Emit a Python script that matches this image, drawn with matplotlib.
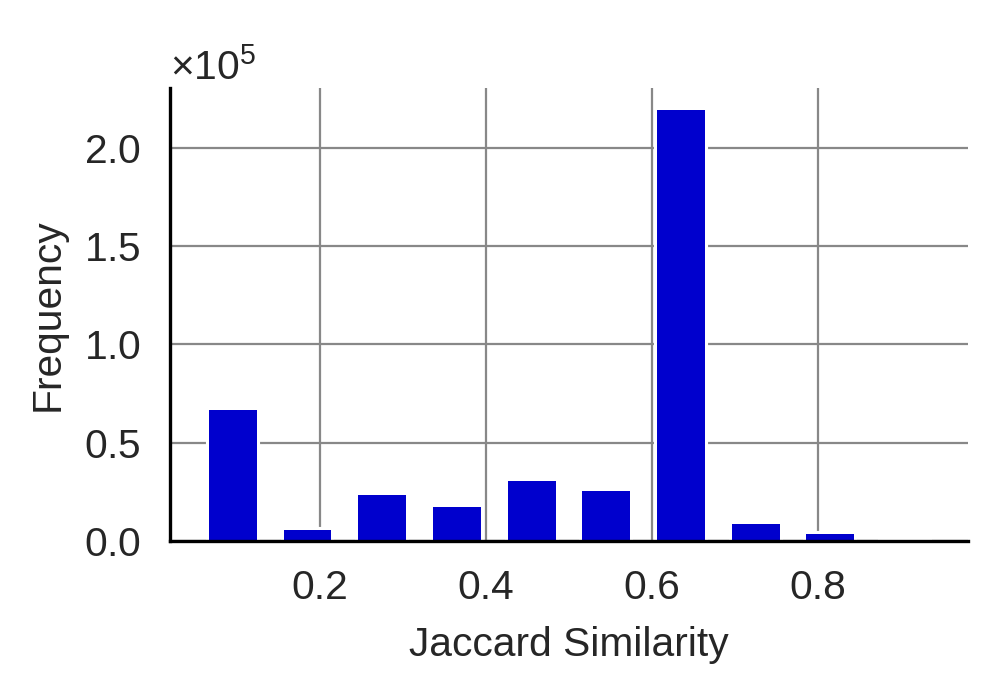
import matplotlib
matplotlib.use("Agg")
import matplotlib.pyplot as plt

# histogram of Jaccard similarity values (10 bins from 0.05 to 0.95)
bin_edges = [0.05, 0.14, 0.23, 0.32, 0.41, 0.50, 0.59, 0.68, 0.77, 0.86, 0.95]
bin_centers = [0.095, 0.185, 0.275, 0.365, 0.455, 0.545, 0.635, 0.725, 0.815, 0.905]
counts = [66600, 5500, 23400, 17500, 30400, 25400, 219100, 8500, 3400, 300]

plt.rcParams["font.family"] = ["Liberation Sans", "DejaVu Sans"]
plt.rcParams["text.color"] = "#262626"
plt.rcParams["axes.labelcolor"] = "#262626"
plt.rcParams["xtick.color"] = "#262626"
plt.rcParams["ytick.color"] = "#262626"
plt.rcParams["mathtext.fontset"] = "custom"
plt.rcParams["mathtext.rm"] = "Liberation Sans"

fig = plt.figure(figsize=(4.985, 3.465), dpi=200)
ax = fig.add_axes([0.1705, 0.2193, 0.8005, 0.6537])

# white halo behind the bars (breaks the grid lines), then the bars themselves
ax.hist(bin_centers, bins=bin_edges, weights=counts, rwidth=0.642,
        color="white", edgecolor="white", linewidth=2.2, zorder=1.5)
ax.hist(bin_centers, bins=bin_edges, weights=counts, rwidth=0.642,
        color="#0000CD", linewidth=0, zorder=2)

ax.set_xlim(0.0193, 0.981)
ax.set_ylim(0, 230400)
ax.set_xticks([0.2, 0.4, 0.6, 0.8])
ax.set_yticks([0, 50000, 100000, 150000, 200000])
ax.ticklabel_format(axis="y", style="sci", scilimits=(0, 0), useMathText=True)
ax.yaxis.get_offset_text().set_fontsize(14.7)

ax.grid(True, color="#888888", linewidth=0.8, zorder=0)
ax.set_axisbelow(True)
for s in ["top", "right"]:
    ax.spines[s].set_visible(False)
for s in ["left", "bottom"]:
    ax.spines[s].set_color("black")
    ax.spines[s].set_linewidth(1.2)
    ax.spines[s].set_zorder(3)

ax.tick_params(axis="both", length=0, labelsize=14.7)
ax.tick_params(axis="y", pad=10.5)
ax.tick_params(axis="x", pad=10)
ax.set_xlabel("Jaccard Similarity", fontsize=14.7, labelpad=7)
ax.set_ylabel("Frequency", fontsize=14.7, labelpad=6)

fig.savefig("out.png", dpi=200)
